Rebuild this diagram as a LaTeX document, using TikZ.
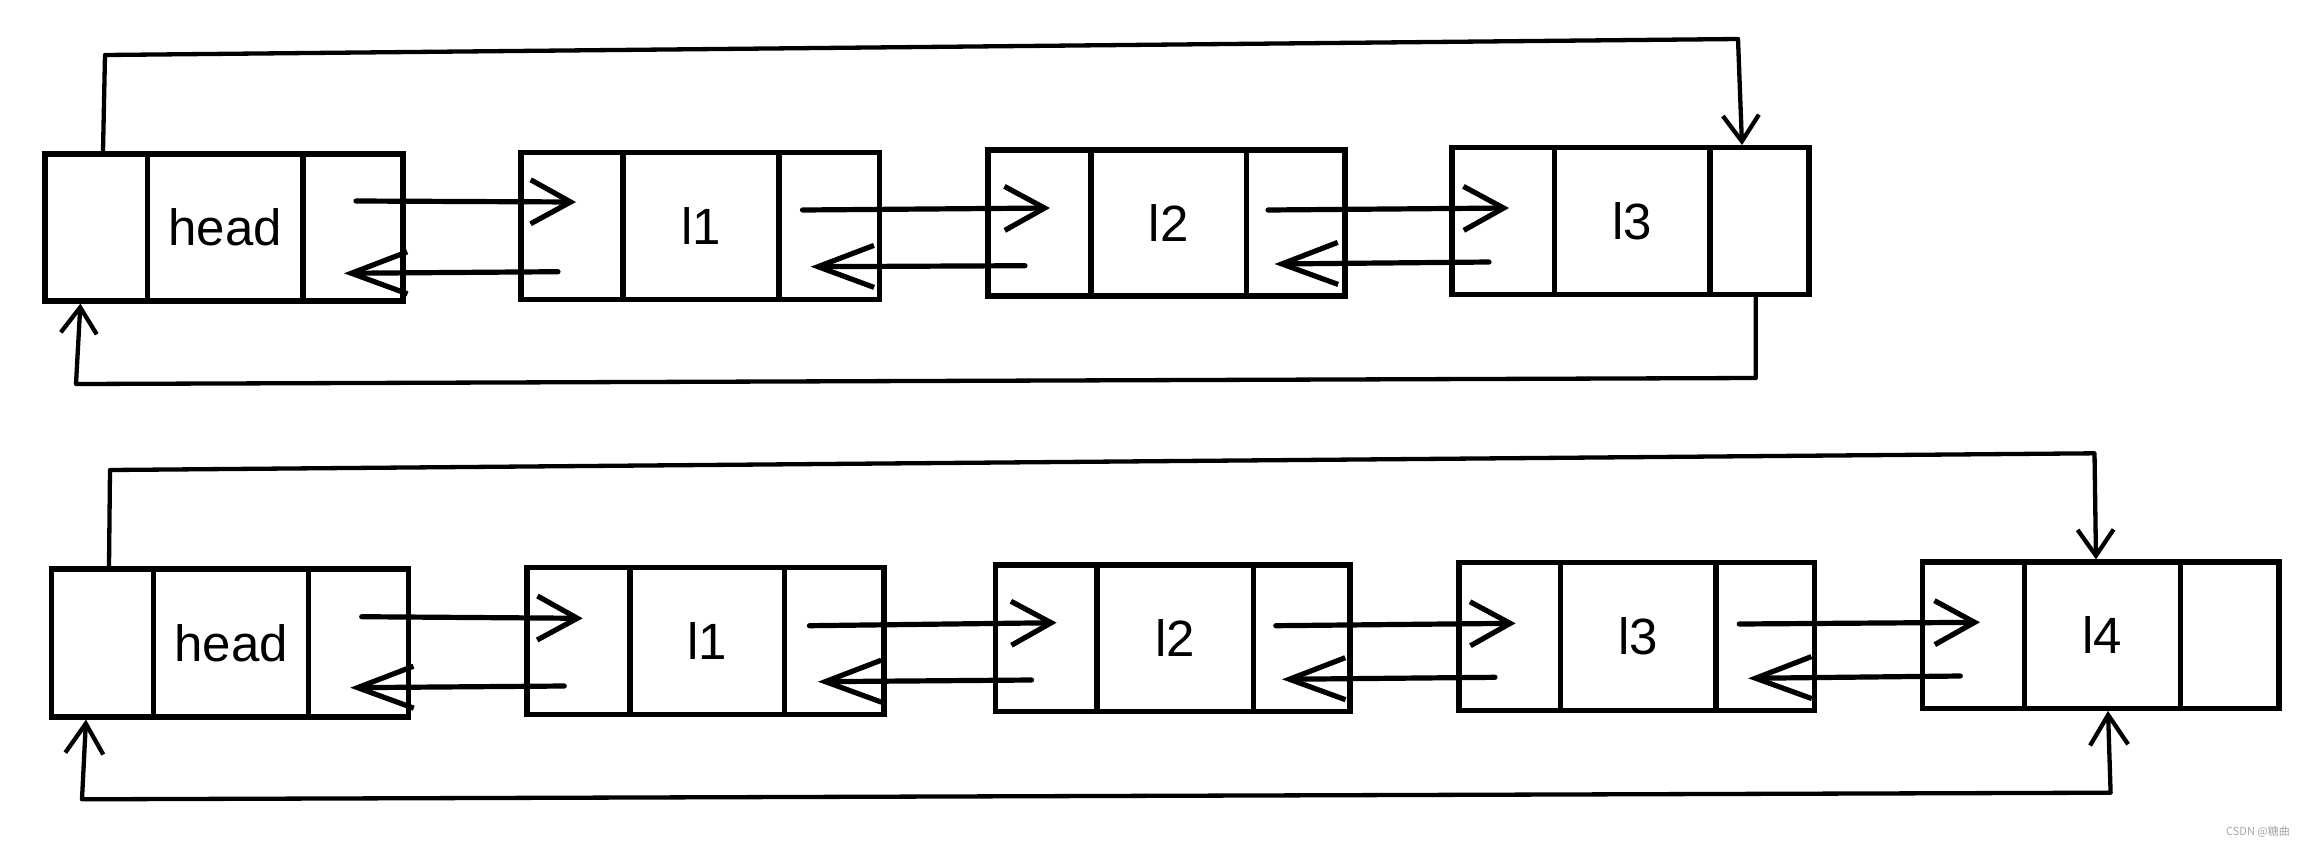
\documentclass[tikz,border=0pt]{standalone}
\usepackage{fontspec}
\setmainfont{Liberation Sans}
\newfontfamily\cjk{Noto Sans CJK SC}
\usetikzlibrary{arrows.meta}
\tikzset{
  cell/.style={draw, line width=5.2pt, inner sep=0pt, font=\fontsize{51}{60}\selectfont},
  fwd/.style={line width=5.2pt, line cap=round, -{Straight Barb[length=40pt,width=44pt]}},
  bwd/.style={line width=5.2pt, line cap=round, -{Straight Barb[length=56pt,width=42pt]}},
  loopline/.style={line width=4.3pt, line join=round, line cap=round},
  looptip/.style={-{Straight Barb[length=26pt,width=36pt]}},
  looptips/.style={{Straight Barb[length=30pt,width=38pt]}-{Straight Barb[length=30pt,width=38pt]}},
}
\newcommand{\listnode}[8]{%
  \pgfmathsetmacro\LNcy{(#6+#7)/2}%
  \pgfmathsetmacro\LNh{#7-#6}%
  \pgfmathsetmacro\LNca{(#2+#3)/2}\pgfmathsetmacro\LNwa{#3-#2}%
  \pgfmathsetmacro\LNcb{(#3+#4)/2}\pgfmathsetmacro\LNwb{#4-#3}%
  \pgfmathsetmacro\LNcc{(#4+#5)/2}\pgfmathsetmacro\LNwc{#5-#4}%
  \node[cell,minimum width=\LNwa pt,minimum height=\LNh pt] (#1a) at (\LNca,\LNcy) {};
  \node[cell,minimum width=\LNwb pt,minimum height=\LNh pt] (#1b) at (\LNcb,\LNcy) {#8};
  \node[cell,minimum width=\LNwc pt,minimum height=\LNh pt] (#1c) at (\LNcc,\LNcy) {};
}
\begin{document}
\begin{tikzpicture}[x=1pt,y=-1pt]
\useasboundingbox[fill=white] (0,0) rectangle (2303,847);

% top row
\listnode{th}{45}{147.5}{303}{403}{154}{301}{head}
\listnode{ta}{521}{623}{779}{879.5}{152.5}{299.5}{l1}
\listnode{tb}{988}{1091}{1246.5}{1345}{150}{296}{l2}
\listnode{tc}{1452}{1554.5}{1710}{1809}{147.7}{294.3}{l3}

\draw[fwd] (356,201) -- (576,202);
\draw[bwd] (558,271.7) -- (344,273.3);
\draw[fwd] (802.5,210) -- (1050,208);
\draw[bwd] (1025,265.7) -- (810.6,266.7);
\draw[fwd] (1268,210) -- (1509,208);
\draw[bwd] (1489,262) -- (1274.5,264);

\draw[loopline,looptip] ([xshift=6.75pt]tha.north) -- (105,55) -- (1738,39) -- ([xshift=-17.5pt]tcc.north);
\draw[loopline,looptip] ([xshift=-3.8pt]tcc.south) -- (1755.7,378) -- (76,384) -- ([xshift=-15.85pt]tha.south);

% bottom row
\listnode{bh}{51.7}{153.3}{308.8}{408.7}{569}{717}{head}
\listnode{ba}{527}{630}{784.7}{884}{567.7}{714.3}{l1}
\listnode{bb}{995.7}{1097}{1253.4}{1350}{565}{711.7}{l2}
\listnode{bc}{1459}{1560.3}{1716}{1814.5}{562.7}{710.7}{l3}
\listnode{bd}{1922.5}{2024.5}{2180.5}{2279}{562}{708.3}{l4}

\draw[fwd] (361.7,616.7) -- (582.7,618.3);
\draw[bwd] (564.3,686) -- (350.2,687.7);
\draw[fwd] (809.4,625.7) -- (1056.6,622.7);
\draw[bwd] (1031.5,680) -- (818,681.7);
\draw[fwd] (1275.8,625.7) -- (1515.6,623.3);
\draw[bwd] (1495,677.3) -- (1282,679.3);
\draw[fwd] (1739.3,624) -- (1980,622.3);
\draw[bwd] (1960.3,676) -- (1748.2,678.3);

\draw[loopline,looptip] ([xshift=6.5pt]bha.north) -- (110,470) -- (2094.5,453.3) -- ([xshift=-6.5pt]bdb.north);
\draw[loopline,looptips] ([xshift=-16.5pt]bha.south) -- (82,799.3) -- (2110.6,792.7) -- ([xshift=5.5pt]bdb.south);

\node[text=gray!70, font=\cjk\fontsize{11}{13}\selectfont, anchor=east, inner sep=0pt] (wm) at (2290,832) {CSDN @糖曲};
\end{tikzpicture}
\end{document}
